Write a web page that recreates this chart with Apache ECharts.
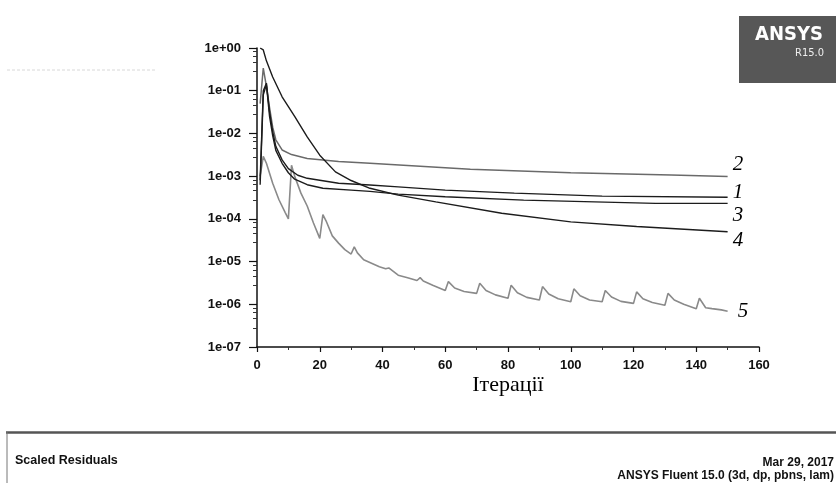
<!DOCTYPE html>
<html><head><meta charset="utf-8">
<script src="https://cdn.jsdelivr.net/npm/echarts@6/dist/echarts.min.js"></script>
<style>html,body{margin:0;padding:0;background:#fff}#c{width:836px;height:483px}</style>
</head><body><div id="c"></div>
<script>
// ---- data ----
const xTickValues = [0, 20, 40, 60, 80, 100, 120, 140, 160];
const yTickLabels = ['1e+00','1e-01','1e-02','1e-03','1e-04','1e-05','1e-06','1e-07'];

const curve1Iter = [1, 2, 3, 4, 5, 6, 8, 10, 13, 16, 26, 36, 45, 60, 82, 110, 150];
const curve1Val  = [8e-4, 0.1, 0.15, 0.032, 0.011, 0.005, 0.0024, 0.0015, 0.00105, 8.9e-4, 6.8e-4, 6.2e-4, 5.6e-4, 4.7e-4, 4.0e-4, 3.4e-4, 3.2e-4];

const curve2Iter = [1, 2, 3, 4, 5, 6, 8, 11, 16, 26, 36, 68, 100, 132, 150];
const curve2Val  = [0.05, 0.34, 0.126, 0.04, 0.014, 0.0071, 0.0041, 0.0032, 0.0026, 0.0022, 0.0020, 0.00145, 0.0012, 0.00107, 0.00098];

const curve3Iter = [1, 2, 3, 4, 5, 6, 8, 10, 12, 16, 21, 30, 36, 45, 60, 85, 127, 150];
const curve3Val  = [6.3e-4, 0.08, 0.14, 0.025, 0.0089, 0.004, 0.002, 0.0012, 8.5e-4, 6.3e-4, 5.2e-4, 4.7e-4, 4.4e-4, 3.8e-4, 3.3e-4, 2.75e-4, 2.3e-4, 2.3e-4];

const curve4Iter = [1, 2, 3, 5, 8, 12, 16, 20, 25, 30, 36, 45, 57, 78, 100, 121, 150];
const curve4Val  = [1.0, 0.9, 0.5, 0.21, 0.072, 0.025, 0.0083, 0.0031, 0.00126, 7.9e-4, 5.2e-4, 3.6e-4, 2.5e-4, 1.35e-4, 8.5e-5, 6.6e-5, 5.0e-5];

const curve5Iter = [1, 2, 3, 5, 7, 9, 10, 11, 12, 14, 16, 18, 20, 21, 22, 24, 26, 28, 30, 31, 32, 34, 39, 41, 42, 45, 48, 51, 52, 53, 56,
  60, 61, 63, 66, 70, 71, 73, 76, 80, 81, 83, 86, 90, 91, 93, 96, 100, 101, 103, 106, 110, 111, 113, 116,
  120, 121, 123, 126, 130, 131, 133, 136, 140, 141, 143, 145, 148, 150];
const curve5Val  = [1e-3, 2.9e-3, 2e-3, 6.8e-4, 2.8e-4, 1.4e-4, 1.0e-4, 1.8e-3, 1.0e-3, 4e-4, 2e-4, 8e-5, 3.5e-5, 1.25e-4, 9e-5, 4e-5, 2.7e-5, 1.9e-5, 1.5e-5, 2.2e-5, 1.6e-5, 1.1e-5, 7.6e-6, 6.8e-6, 7.1e-6, 4.8e-6, 4.2e-6, 3.6e-6, 4.2e-6, 3.5e-6, 2.8e-6,
  2.1e-6, 3.4e-6, 2.4e-6, 2.0e-6, 1.8e-6, 3.1e-6, 2.1e-6, 1.66e-6, 1.38e-6, 2.8e-6, 1.86e-6, 1.45e-6, 1.26e-6, 2.6e-6, 1.74e-6, 1.35e-6, 1.15e-6, 2.3e-6, 1.58e-6, 1.26e-6, 1.15e-6, 2.1e-6, 1.48e-6, 1.17e-6,
  1.05e-6, 1.95e-6, 1.35e-6, 1.1e-6, 9.5e-7, 1.8e-6, 1.26e-6, 1.0e-6, 7.9e-7, 1.38e-6, 8.3e-7, 7.9e-7, 7.4e-7, 6.9e-7];

const seriesNames = ['1', '2', '3', '4', '5'];
// --------------------------------------

function pairs(xs, ys) { return xs.map((x, i) => [x, ys[i]]); }

const chart = echarts.init(document.getElementById('c'), null, {renderer: 'canvas'});

const labelBase = {
  show: true, formatter: '{a}', fontFamily: 'Liberation Serif', fontStyle: 'italic',
  fontSize: 21, color: '#000', distance: 5
};
function mkSeries(name, xs, ys, color, width, off) {
  return {
    name: name, type: 'line', data: pairs(xs, ys), showSymbol: false, symbol: 'none',
    smooth: false, animation: false,
    lineStyle: {color: color, width: width},
    endLabel: Object.assign({}, labelBase, {offset: off}),
    z: 3
  };
}

const option = {
  animation: false,
  backgroundColor: '#fff',
  grid: {left: 257, right: 77, top: 48, bottom: 136, containLabel: false},
  xAxis: {
    type: 'value', min: 0, max: 160, interval: 20,
    name: 'Ітерації', nameLocation: 'middle', nameGap: 27, nameMoveOverlap: false,
    nameTextStyle: {fontFamily: 'Liberation Serif', fontSize: 22, color: '#000', verticalAlign: 'top'},
    axisLine: {show: true, lineStyle: {color: '#111', width: 1.5}},
    axisTick: {show: true, length: 5, lineStyle: {color: '#111', width: 1.2}},
    minorTick: {show: true, splitNumber: 2, length: 3, lineStyle: {color: '#333'}},
    splitLine: {show: false},
    axisLabel: {
      margin: 12, fontFamily: 'Liberation Sans', fontWeight: 'bold', fontSize: 13, color: '#111',
      formatter: v => xTickValues.indexOf(v) >= 0 ? String(v) : ''
    }
  },
  yAxis: {
    type: 'log', logBase: 10, min: 1e-7, max: 1, splitNumber: 7,
    axisLine: {show: true, lineStyle: {color: '#111', width: 1.5}},
    axisTick: {show: true, length: 8, lineStyle: {color: '#111', width: 1.2}},
    minorTick: {show: true, splitNumber: 5, length: 4, lineStyle: {color: '#333'}},
    splitLine: {show: false},
    axisLabel: {
      margin: 16, fontFamily: 'Liberation Sans', fontWeight: 'bold', fontSize: 13, color: '#111',
      formatter: v => {
        const e = Math.round(Math.log10(v));
        return yTickLabels[-e] !== undefined ? yTickLabels[-e] : '';
      }
    }
  },
  series: [
    mkSeries(seriesNames[1], curve2Iter, curve2Val, '#6a6a6a', 1.5, [0, -12]),
    mkSeries(seriesNames[4], curve5Iter, curve5Val, '#8a8a8a', 1.6, [5, 0]),
    mkSeries(seriesNames[0], curve1Iter, curve1Val, '#1c1c1c', 1.4, [0, -5]),
    mkSeries(seriesNames[2], curve3Iter, curve3Val, '#1c1c1c', 1.4, [0, 12]),
    mkSeries(seriesNames[3], curve4Iter, curve4Val, '#1c1c1c', 1.4, [0, 9])
  ],
  graphic: [
    {type: 'line', shape: {x1: 7, y1: 70, x2: 157, y2: 70}, style: {stroke: '#d8d8d8', lineWidth: 1, lineDash: [3, 2]}},
    {type: 'rect', shape: {x: 739, y: 16, width: 97, height: 67}, style: {fill: '#575757'}},
    {type: 'text', style: {x: 823, y: 35, text: 'ANSYS', fill: '#fff', font: 'bold 20px "DejaVu Sans Condensed", "DejaVu Sans"', textAlign: 'right', textVerticalAlign: 'middle'}},
    {type: 'text', style: {x: 824, y: 53, text: 'R15.0', fill: '#eee', font: '11px "DejaVu Sans Condensed", "DejaVu Sans"', textAlign: 'right', textVerticalAlign: 'middle'}},
    {type: 'line', shape: {x1: 6, y1: 432.5, x2: 836, y2: 432.5}, style: {stroke: '#555', lineWidth: 2.5}},
    {type: 'line', shape: {x1: 7, y1: 432, x2: 7, y2: 483}, style: {stroke: '#777', lineWidth: 1}},
    {type: 'text', style: {x: 15, y: 461, text: 'Scaled Residuals', fill: '#111', font: 'bold 12.5px "Liberation Sans"', textVerticalAlign: 'middle'}},
    {type: 'text', style: {x: 834, y: 463, text: 'Mar 29, 2017', fill: '#111', font: 'bold 12px "Liberation Sans"', textAlign: 'right', textVerticalAlign: 'middle'}},
    {type: 'text', style: {x: 834, y: 476, text: 'ANSYS Fluent 15.0 (3d, dp, pbns, lam)', fill: '#111', font: 'bold 12px "Liberation Sans"', textAlign: 'right', textVerticalAlign: 'middle'}}
  ]
};
chart.setOption(option);
</script>
</body></html>
